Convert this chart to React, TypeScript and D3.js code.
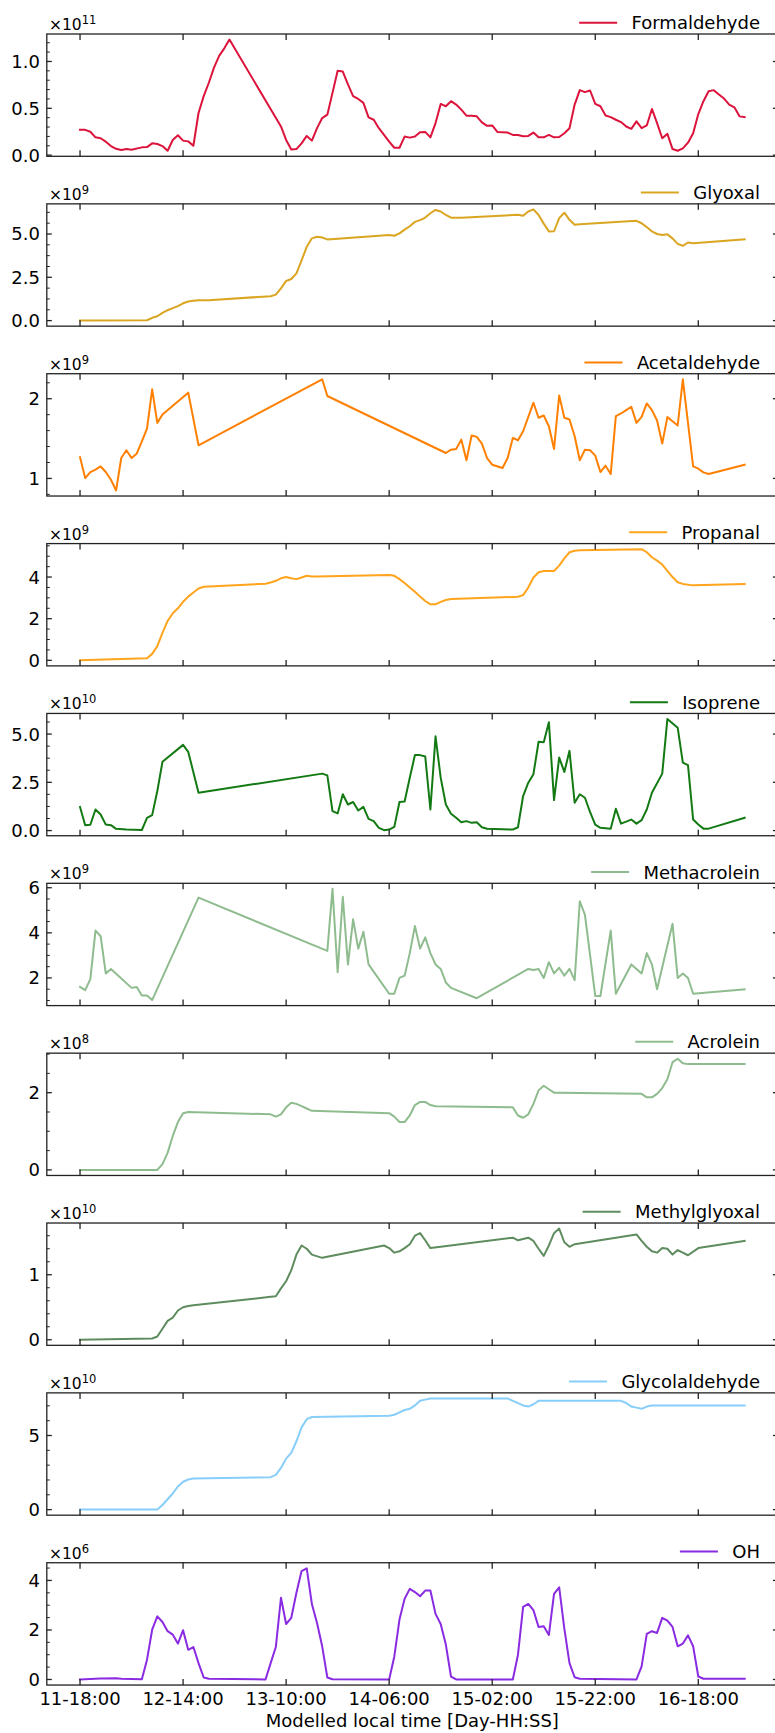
import React from 'react';
import * as d3 from 'd3';

// ---------------- data (hours since 11-18:00, values in units of 10^exp) ----------------
const formT = [0,1,2,3,4,5,6,7,8,9,10,12,13,14,15,16,17,18,19,20,21,22,23,24,25,26,27,28,29,39,40,41,42,43,44,45,46,47,48,49,50,51,52,53,54,55,56,57,58,59,60,61,62,63,64,65,66,67,68,69,70,71,72,73,74,75,76,77,78,79,80,81,82,83,84,85,86,87,88,89,90,91,92,93,94,95,96,97,98,99,100,101,102,103,104,105,106,107,108,109,110,111,112,113,114,115,116,117,118,119,120,121,122,123,124,125,126,127,128,129];
const formV = [0.27,0.27,0.25,0.19,0.18,0.144,0.097,0.068,0.054,0.065,0.058,0.083,0.086,0.126,0.119,0.097,0.047,0.162,0.212,0.155,0.147,0.10,0.45,0.63,0.773,0.935,1.06,1.14,1.234,0.306,0.162,0.061,0.065,0.126,0.205,0.155,0.288,0.396,0.432,0.665,0.9,0.892,0.755,0.63,0.60,0.558,0.403,0.378,0.288,0.216,0.144,0.079,0.079,0.198,0.187,0.198,0.245,0.248,0.19,0.342,0.547,0.522,0.576,0.54,0.486,0.421,0.421,0.414,0.349,0.313,0.317,0.248,0.245,0.241,0.216,0.216,0.201,0.205,0.241,0.19,0.19,0.216,0.19,0.194,0.234,0.288,0.54,0.694,0.673,0.69,0.547,0.522,0.424,0.406,0.378,0.353,0.306,0.281,0.36,0.288,0.317,0.493,0.342,0.18,0.227,0.065,0.047,0.072,0.133,0.234,0.439,0.576,0.683,0.694,0.647,0.604,0.54,0.511,0.414,0.406];

const glyoT = [0,13,14,15,16,17,18,19,20,21,22,23,25,37,38,39,40,41,42,43,44,45,46,47,48,60,61,62,63,64,65,66,67,68,69,70,71,72,74,85,86,87,88,89,90,91,92,93,94,95,96,97,108,109,110,111,112,113,114,115,116,117,118,119,129];
const glyoV = [0,0.02,0.16,0.25,0.45,0.6,0.72,0.84,1.0,1.1,1.15,1.17,1.18,1.41,1.5,1.86,2.29,2.4,2.73,3.48,4.26,4.75,4.84,4.8,4.69,4.94,4.9,5.04,5.25,5.45,5.7,5.8,5.95,6.2,6.39,6.3,6.1,5.94,5.94,6.11,6.05,6.3,6.42,6.1,5.6,5.15,5.16,5.92,6.23,5.82,5.53,5.57,5.76,5.62,5.4,5.15,5.0,4.94,4.98,4.75,4.43,4.32,4.51,4.47,4.69];

const acetT = [0,1,2,3,4,5,6,7,8,9,10,11,12,13,14,15,16,21,23,47,48,71,72,73,74,75,76,77,78,79,80,82,83,84,85,86,88,89,90,91,92,93,94,95,96,97,98,99,100,101,102,103,104,105,106,107,108,109,110,111,112,113,114,115,116,117,119,120,121,122,129];
const acetV = [1.265,1.004,1.08,1.11,1.15,1.08,0.983,0.849,1.256,1.353,1.256,1.31,1.466,1.626,2.118,1.697,1.803,2.076,1.416,2.244,2.034,1.319,1.361,1.37,1.487,1.227,1.538,1.521,1.437,1.256,1.172,1.13,1.256,1.508,1.479,1.592,1.95,1.761,1.79,1.655,1.37,2.042,1.761,1.739,1.529,1.227,1.361,1.353,1.286,1.08,1.16,1.055,1.782,1.815,1.857,1.899,1.697,1.773,1.941,1.857,1.727,1.437,1.769,1.718,1.664,2.244,1.151,1.122,1.076,1.055,1.172];

const propT = [0,13,14,15,16,17,18,19,20,21,22,23,24,36,37,38,39,40,41,42,43,44,45,46,60,61,62,63,64,65,66,67,68,69,70,71,72,85,86,87,88,89,90,92,93,94,95,96,97,109,110,111,112,113,114,115,116,117,119,129];
const propV = [0,0.1,0.31,0.68,1.32,1.89,2.26,2.5,2.81,3.06,3.26,3.45,3.53,3.68,3.74,3.82,3.94,4.0,3.94,3.9,3.98,4.06,4.03,4.02,4.1,4.06,3.9,3.71,3.5,3.29,3.06,2.85,2.69,2.69,2.81,2.9,2.94,3.05,3.13,3.5,3.98,4.23,4.29,4.29,4.55,4.9,5.19,5.26,5.29,5.34,5.19,4.95,4.79,4.6,4.3,4.0,3.75,3.67,3.6,3.66];

const isopT = [0,1,2,3,4,5,6,7,9,12,13,14,15,16,20,21,23,47,48,49,50,51,52,53,54,55,56,57,58,59,60,61,62,63,64,65,66,67,68,69,70,71,72,73,74,75,76,77,78,79,84,85,86,87,88,89,90,91,92,93,94,95,96,97,98,99,100,101,103,104,105,107,108,109,110,111,113,114,116,117,118,119,120,121,122,129];
const isopV = [1.22,0.28,0.30,1.09,0.83,0.31,0.28,0.09,0.05,0.03,0.66,0.80,2.05,3.56,4.44,4.08,1.96,2.95,2.86,1.01,0.89,1.88,1.35,1.48,1.04,1.23,0.61,0.49,0.14,0.02,0.05,0.19,1.48,1.51,2.74,3.91,3.91,3.84,1.09,4.88,2.74,1.35,0.87,0.66,0.43,0.49,0.4,0.43,0.17,0.09,0.05,0.17,1.79,2.48,2.92,4.6,4.57,5.61,1.58,3.78,3.04,4.13,1.44,1.88,1.70,0.95,0.31,0.14,0.1,1.13,0.36,0.57,0.36,0.54,1.09,1.96,2.95,5.78,5.33,3.52,3.39,0.57,0.31,0.1,0.1,0.66];

const macrT = [0,1,2,3,4,5,6,10,11,12,13,14,23,48,49,50,51,52,53,54,55,56,60,61,62,63,64,65,66,67,68,69,70,71,72,77,87,88,89,90,91,92,93,94,95,96,97,98,100,101,103,104,107,109,110,111,112,115,116,117,118,119,129];
const macrV = [1.6,1.46,1.95,4.1,3.85,2.2,2.4,1.56,1.6,1.22,1.22,1.02,5.56,3.2,5.95,2.25,5.6,2.6,4.6,3.3,4.05,2.6,1.3,1.3,2.0,2.1,3.1,4.3,3.3,3.8,3.1,2.6,2.4,1.8,1.56,1.1,2.4,2.35,2.4,2.0,2.7,2.2,2.45,2.1,2.4,1.9,5.4,4.8,1.2,1.2,4.1,1.3,2.6,2.2,3.1,2.6,1.5,4.4,2.0,2.2,2.0,1.3,1.5];

const acroT = [0,15,16,17,18,19,20,21,37,38,39,40,41,42,43,44,45,60,61,62,63,64,65,66,67,68,69,84,85,86,87,88,89,90,91,92,93,109,110,111,112,113,114,115,116,117,118,119,129];
const acroV = [0,0,0.15,0.44,0.88,1.24,1.47,1.5,1.44,1.38,1.44,1.62,1.74,1.71,1.65,1.59,1.53,1.47,1.38,1.24,1.24,1.41,1.68,1.76,1.76,1.68,1.65,1.62,1.41,1.35,1.44,1.71,2.06,2.18,2.09,2.0,2.0,1.97,1.88,1.88,1.97,2.12,2.35,2.79,2.88,2.76,2.74,2.74,2.74];

const mglyT = [0,14,15,16,17,18,19,20,21,22,37,38,39,40,41,42,43,44,45,47,59,60,61,62,63,64,65,66,67,68,70,84,85,86,87,88,89,90,91,92,93,94,95,96,108,109,110,111,112,113,114,115,116,117,118,120,129];
const mglyV = [0,0.02,0.05,0.17,0.29,0.34,0.45,0.5,0.52,0.53,0.66,0.67,0.79,0.9,1.07,1.31,1.45,1.4,1.31,1.26,1.45,1.41,1.34,1.36,1.41,1.47,1.6,1.64,1.53,1.41,1.43,1.57,1.53,1.55,1.57,1.52,1.4,1.29,1.45,1.64,1.71,1.5,1.43,1.47,1.62,1.52,1.43,1.36,1.34,1.41,1.4,1.31,1.38,1.34,1.3,1.41,1.52];

const gcolT = [0,15,16,17,18,19,20,21,22,37,38,39,40,41,42,43,44,45,60,61,62,63,64,65,66,67,68,83,84,85,86,87,88,89,90,105,106,107,108,109,110,111,129];
const gcolV = [0,0,0.31,0.7,1.09,1.56,1.88,2.03,2.1,2.19,2.34,2.81,3.44,3.83,4.61,5.55,6.1,6.25,6.33,6.4,6.56,6.72,6.8,7.03,7.34,7.42,7.5,7.5,7.34,7.19,7.03,6.95,7.11,7.34,7.34,7.34,7.19,6.95,6.88,6.8,6.95,7.03,7.03];

const ohT = [0,4,7,8,12,13,14,15,16,17,18,19,20,21,22,23,24,25,36,37,38,39,40,41,42,43,44,45,46,47,48,49,60,61,62,63,64,65,66,67,68,69,70,71,72,73,84,85,86,87,88,89,90,91,92,93,94,95,96,97,108,109,110,111,112,113,114,115,116,117,118,119,120,121,129];
const ohV = [0,0.04,0.05,0.03,0.01,0.8,2.01,2.55,2.32,1.95,1.81,1.45,1.99,1.2,1.31,0.66,0.08,0.03,0,0.66,1.31,3.3,2.24,2.49,3.5,4.38,4.49,3.05,2.28,1.34,0.08,0.01,0,0.93,2.42,3.26,3.66,3.53,3.36,3.59,3.59,2.65,2.24,1.41,0.12,0,0,1.0,2.93,3.05,2.8,2.12,2.15,1.8,3.46,3.72,2.05,0.66,0.09,0.03,0,0.53,1.84,1.95,1.88,2.49,2.38,2.12,1.34,1.45,1.78,1.34,0.12,0.03,0.03];

const xTickHours = [0, 20, 40, 60, 80, 100, 120];
const xTickLabels = ['11-18:00', '12-14:00', '13-10:00', '14-06:00', '15-02:00', '15-22:00', '16-18:00'];
const xLabel = 'Modelled local time [Day-HH:SS]';

const names = ['Formaldehyde', 'Glyoxal', 'Acetaldehyde', 'Propanal', 'Isoprene', 'Methacrolein', 'Acrolein', 'Methylglyoxal', 'Glycolaldehyde', 'OH'];
const colors = ['#DC143C', '#DAA520', '#FF8000', '#FFA41C', '#137A13', '#8FBC8F', '#8FBC8F', '#5F8C5F', '#87CEFA', '#8A2BE2'];
const exponents = [11, 9, 9, 9, 10, 9, 8, 10, 10, 6];
const yTicks = [[0, 0.5, 1.0], [0, 2.5, 5.0], [1, 2], [0, 2, 4], [0, 2.5, 5.0], [2, 4, 6], [0, 2], [0, 1], [0, 5], [0, 2, 4]];
const yTickLabels = [['0.0', '0.5', '1.0'], ['0.0', '2.5', '5.0'], ['1', '2'], ['0', '2', '4'], ['0.0', '2.5', '5.0'], ['2', '4', '6'], ['0', '2'], ['0', '1'], ['0', '5'], ['0', '2', '4']];
const yMinorStep = [0.1, 0.625, 0.2, 0.5, 0.625, 0.5, 0.5, 0.2, 1, 0.5];
const seriesT = [formT, glyoT, acetT, propT, isopT, macrT, acroT, mglyT, gcolT, ohT];
const seriesV = [formV, glyoV, acetV, propV, isopV, macrV, acroV, mglyV, gcolV, ohV];

// ---------------- layout ----------------
const W = 775, H = 1733;
const X0 = 46.8, X1 = 777.9;
const TOP0 = 34, STEP = 169.86, PH = 122.3;
const FONT = 'DejaVu Sans, sans-serif';
const FS = 18;
const AX = '#222';

let _ctx: CanvasRenderingContext2D | null = null;
function measure(s: string, size: number) {
  if (!_ctx) _ctx = document.createElement('canvas').getContext('2d');
  if (!_ctx) return s.length * size * 0.6;
  _ctx.font = `${size}px "DejaVu Sans"`;
  return _ctx.measureText(s).width;
}

function pad(ext: [number, number]): [number, number] {
  const r = ext[1] - ext[0];
  return [ext[0] - 0.05 * r, ext[1] + 0.05 * r];
}

function Panel({ i }: { i: number }) {
  const top = TOP0 + i * STEP;
  const bottom = top + PH;
  const t = seriesT[i], v = seriesV[i];
  const allT = seriesT.flat();
  const x = d3.scaleLinear().domain(pad([d3.min(allT) as number, d3.max(allT) as number])).range([X0, X1]);
  const y = d3.scaleLinear().domain(pad(d3.extent(v) as [number, number])).range([bottom, top]);
  const pts: [number, number][] = t.map((tt, k) => [tt, v[k]]);
  const line = d3.line<[number, number]>().x(d => x(d[0])).y(d => y(d[1]));
  const [d0, d1] = y.domain();
  const ms = yMinorStep[i];
  const minors: number[] = [];
  for (let k = Math.ceil(d0 / ms - 1e-9); k * ms <= d1 + 1e-9; k++) {
    const val = k * ms;
    if (!yTicks[i].some(m => Math.abs(m - val) < 1e-9)) minors.push(val);
  }
  const name = names[i];
  const tw = measure(name, FS);
  const textEnd = 760;
  const lineEnd = textEnd - tw - 14.4;
  const isLast = i === names.length - 1;
  return (
    <g>
      <defs>
        <clipPath id={`clip${i}`}>
          <rect x={X0} y={top} width={X1 - X0} height={PH} />
        </clipPath>
      </defs>
      <path d={line(pts) || ''} fill="none" stroke={colors[i]} strokeWidth={2} strokeLinejoin="round" strokeLinecap="square" clipPath={`url(#clip${i})`} />
      {/* spines */}
      <rect x={X0} y={top} width={X1 - X0} height={PH} fill="none" stroke={AX} strokeWidth={1.3} />
      {/* x ticks top & bottom */}
      {xTickHours.map((h, k) => (
        <g key={k}>
          <line x1={x(h)} x2={x(h)} y1={top} y2={top + 6} stroke={AX} strokeWidth={1.3} />
          <line x1={x(h)} x2={x(h)} y1={bottom} y2={bottom - 6} stroke={AX} strokeWidth={1.3} />
          {isLast && (
            <text x={x(h)} y={bottom + 20} textAnchor="middle" fontSize={FS} fontFamily={FONT} fill="#000">{xTickLabels[k]}</text>
          )}
        </g>
      ))}
      {/* y ticks */}
      {yTicks[i].map((m, k) => (
        <g key={k}>
          <line x1={X0} x2={X0 + 5} y1={y(m)} y2={y(m)} stroke={AX} strokeWidth={1.3} />
          <line x1={X1} x2={X1 - 5} y1={y(m)} y2={y(m)} stroke={AX} strokeWidth={1.3} />
          <text x={40} y={y(m)} dy="0.36em" textAnchor="end" fontSize={FS} fontFamily={FONT} fill="#000">{yTickLabels[i][k]}</text>
        </g>
      ))}
      {minors.map((m, k) => (
        <line key={k} x1={X0} x2={X0 + 3} y1={y(m)} y2={y(m)} stroke={AX} strokeWidth={1} />
      ))}
      {/* offset text */}
      <text x={49} y={top - 4} fontSize={15.5} fontFamily={FONT} fill="#000">
        ×10<tspan dy={-6} fontSize={11.5}>{exponents[i]}</tspan>
      </text>
      {/* legend */}
      <line x1={lineEnd - 38} x2={lineEnd} y1={top - 11.3} y2={top - 11.3} stroke={colors[i]} strokeWidth={2} />
      <text x={textEnd} y={top - 4.7} textAnchor="end" fontSize={FS} fontFamily={FONT} fill="#000">{name}</text>
    </g>
  );
}

export default function App() {
  React.useEffect(() => {
    document.body.style.margin = '0';
  }, []);
  return (
    <svg width={W} height={H} viewBox={`0 0 ${W} ${H}`} style={{ display: 'block', position: 'absolute', left: 0, top: 0, background: '#fff' }}>
      <rect x={0} y={0} width={W} height={H} fill="#fff" />
      {names.map((_, i) => <Panel key={i} i={i} />)}
      <text x={(X0 + X1) / 2} y={1726.7} textAnchor="middle" fontSize={FS} fontFamily={FONT} fill="#000">{xLabel}</text>
    </svg>
  );
}
